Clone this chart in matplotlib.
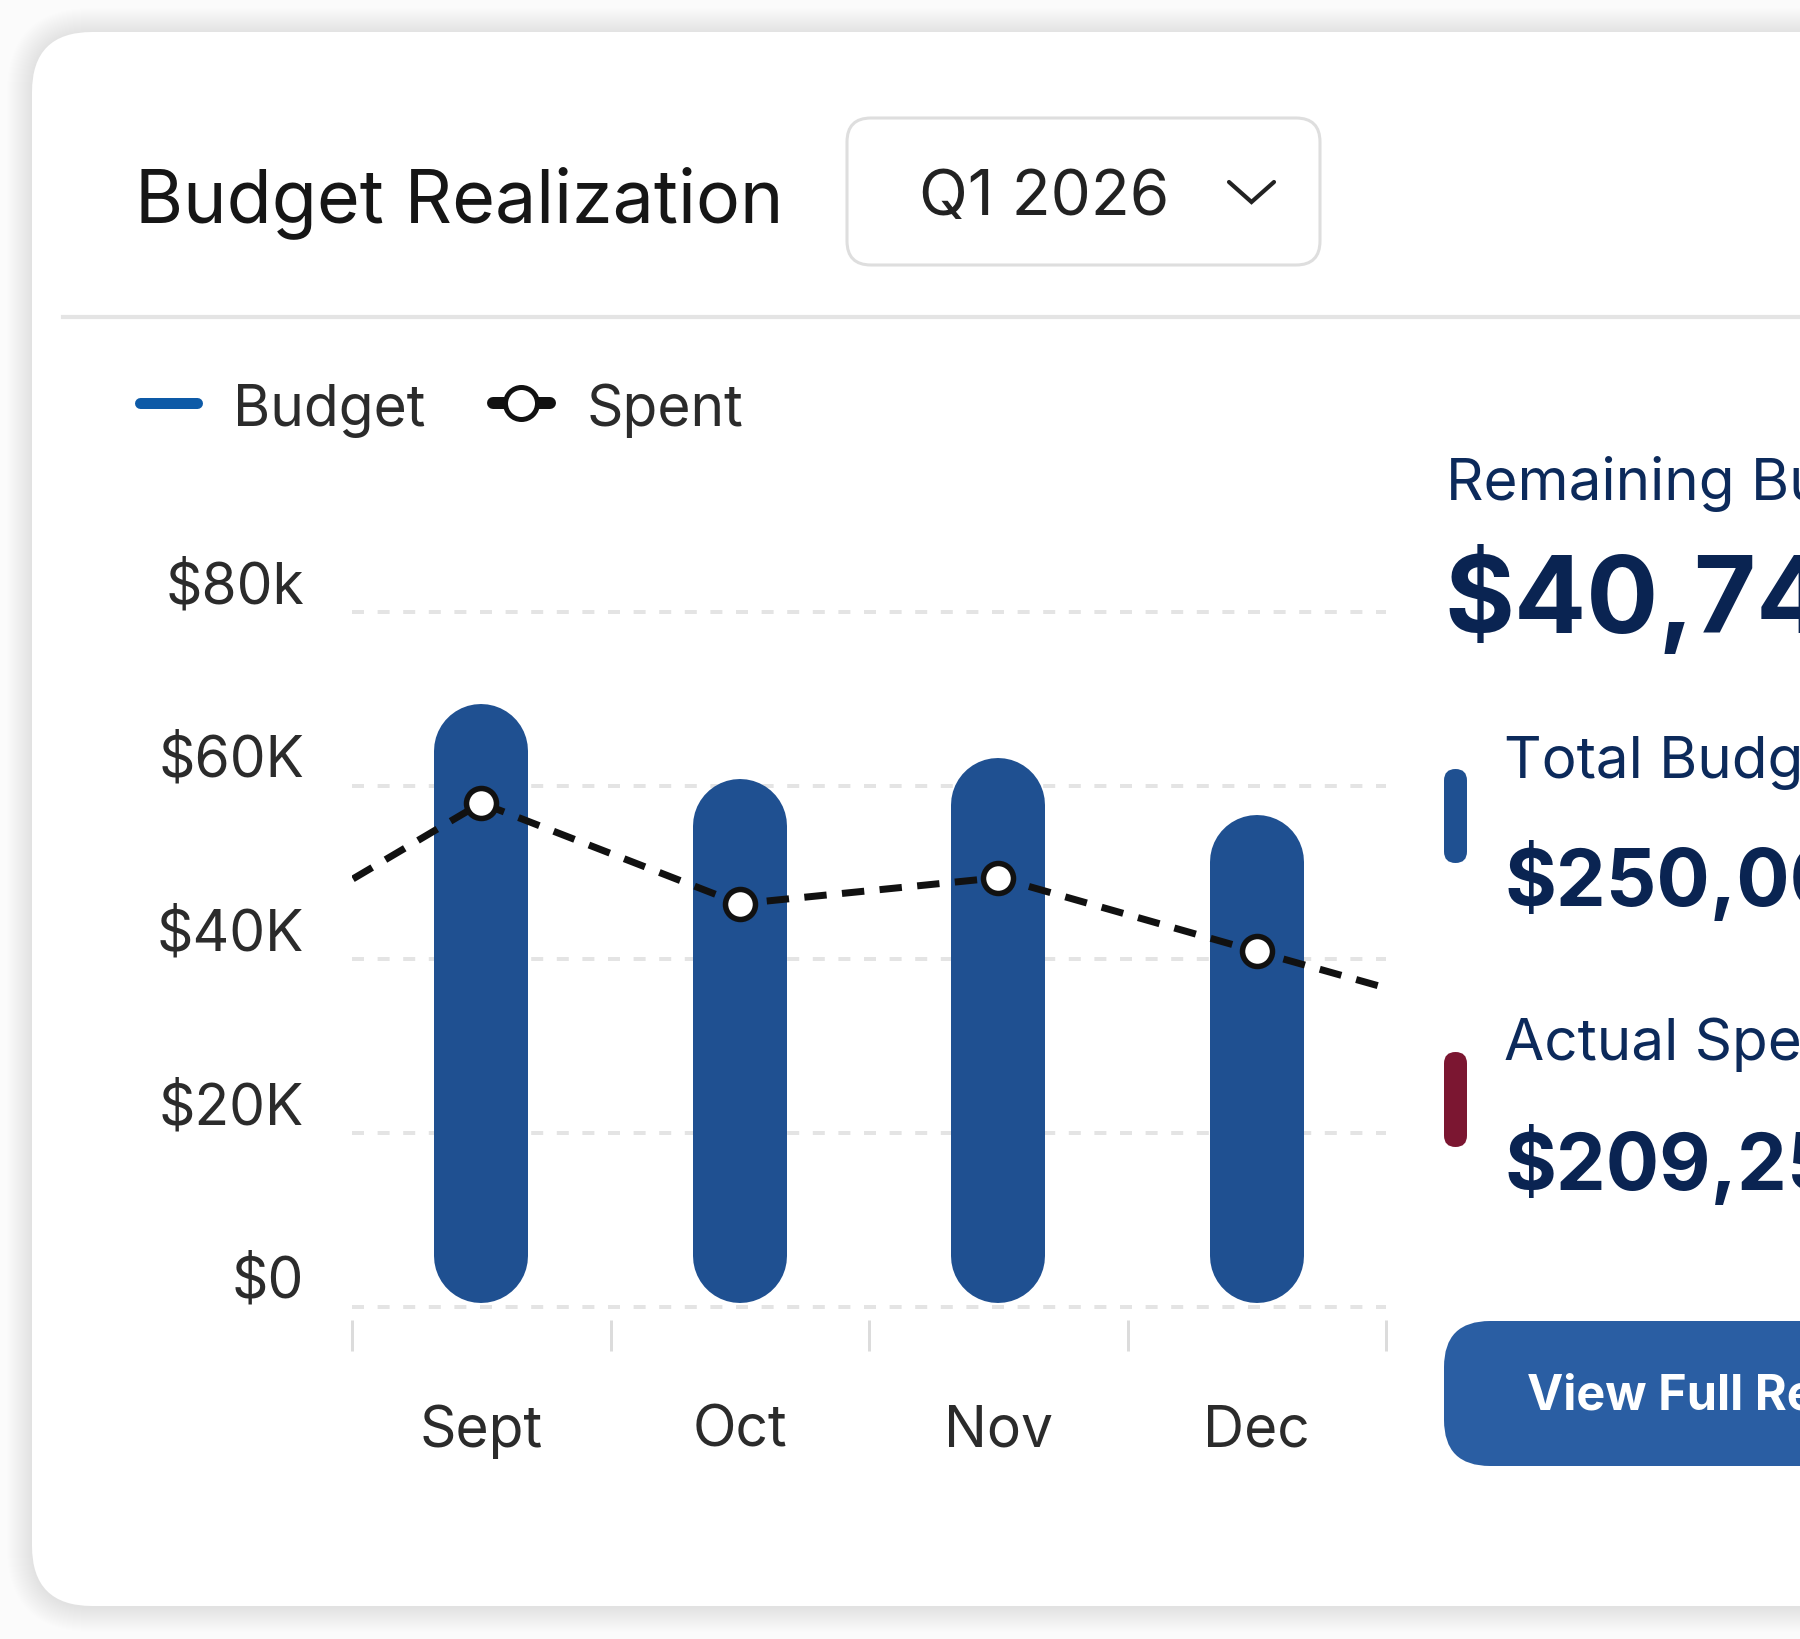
import numpy as np
import matplotlib.pyplot as plt
from matplotlib.patches import FancyBboxPatch
from matplotlib.transforms import ScaledTranslation

# ---- data ($k) ----
months = ['Sept', 'Oct', 'Nov', 'Dec']
budget = [69.4, 60.8, 63.2, 56.6]
# spent, with the neighbour months (Aug, Jan) the dashed line runs into
spent_months = ['Aug', 'Sept', 'Oct', 'Nov', 'Dec', 'Jan']
spent = [40.4, 58.0, 46.4, 49.4, 40.9, 32.5]
y_ticks = [0, 20, 40, 60, 80]
y_tick_labels = ['$0', '$20K', '$40K', '$60K', '$80k']

remaining_txt = '$40,748'
total_txt = '$250,000'
actual_txt = '$209,252'

W, H, DPI = 1800, 1639, 100
PT = 72 / DPI  # px -> pt
FONT = 'Inter'
plt.rcParams['font.family'] = [FONT, 'DejaVu Sans']

fig = plt.figure(figsize=(W / DPI, H / DPI), dpi=DPI, facecolor='#fbfbfb')

# overlay axes in pixel units for the card / header / side panel
bg = fig.add_axes([0, 0, 1, 1])
bg.set_xlim(0, W)
bg.set_ylim(H, 0)
bg.axis('off')


def rbox(x, y, w, h, r, **kw):
    """ Rounded rectangle, pixel coords, top-left corner (x, y). """
    p = FancyBboxPatch((x + r, y + r), w - 2 * r, h - 2 * r,
                       boxstyle='round,pad={}'.format(r), **kw)
    bg.add_patch(p)
    return p


# card + soft shadow
for i in range(1, 26):
    rbox(32 - i, 33 - i, 2200, 1574 + 2 * i, 60 + i, fc='black', ec='none', alpha=0.0045)
rbox(32, 32, 2200, 1574, 60, fc='white', ec='none')

# header
bg.text(135, 222, 'Budget Realization', fontsize=53, fontweight='normal',
        color='#161616', va='baseline')
rbox(847, 118, 473, 147, 24, fc='white', ec='#dedede', lw=2.2)
bg.text(919, 215, 'Q1 2026', fontsize=46, color='#222222', va='baseline')
bg.plot([1229, 1251.5, 1274], [182, 202, 182], color='#222222', lw=3,
        solid_capstyle='round', solid_joinstyle='miter')
bg.plot([63, W], [317, 317], color='#e4e4e4', lw=3)

# legend
bg.plot([140, 197], [403, 403], color='#0d5aa7', lw=11 * PT, solid_capstyle='round')
bg.text(233, 426, 'Budget', fontsize=41, color='#2b2b2b', va='baseline')
bg.plot([493, 550], [403, 403], color='#111111', lw=12 * PT, solid_capstyle='round')
bg.plot([521], [403], 'o', ms=32 * PT, mfc='white', mec='#111111', mew=5 * PT)
bg.text(587, 426, 'Spent', fontsize=41, color='#2b2b2b', va='baseline')

# side panel
navy = '#0c2a5b'
bg.text(1446, 500, 'Remaining Budget', fontsize=42, color=navy, va='baseline')
bg.text(1444, 633, remaining_txt, fontsize=77, fontweight='bold', color='#0a2452', va='baseline')
rbox(1444, 769, 23, 94, 11.5, fc='#1f5091', ec='none')
bg.text(1504, 778, 'Total Budget', fontsize=42, color=navy, va='baseline')
bg.text(1504, 906, total_txt, fontsize=57, fontweight='bold', color='#0a2452', va='baseline')
rbox(1444, 1052, 23, 95, 11.5, fc='#7b1631', ec='none')
bg.text(1504, 1060, 'Actual Spent', fontsize=42, color=navy, va='baseline')
bg.text(1504, 1190, actual_txt, fontsize=57, fontweight='bold', color='#0a2452', va='baseline')
rbox(1444, 1321, 600, 145, 46, fc='#2a5ea3', ec='none')
bg.text(1527, 1410, 'View Full Report', fontsize=35, fontweight='bold', color='white',
        va='baseline')

# ---- chart ----
y0_px, k_px = 1306.5, 8.68      # pixel of $0 and pixels per $1k
ylo, yhi = -1.5, 83
left_px, right_px = 352, 1386
bot_px = y0_px - ylo * k_px
top_px = y0_px - yhi * k_px
ax = fig.add_axes([left_px / W, 1 - bot_px / H, (right_px - left_px) / W,
                   (bot_px - top_px) / H])
ax.patch.set_alpha(0)
ax.set_xlim(-0.5, 3.5)
ax.set_ylim(ylo, yhi)

x = np.arange(len(months))
bar_px = 94
r = bar_px / 2 / k_px
base = 0.4
ax.vlines(x, base + r, np.array(budget) - r, lw=bar_px * PT, color='#1f5091',
          capstyle='round', zorder=2)

xs = np.arange(len(spent_months)) - 1
ax.plot(xs, spent, color='#111111', lw=7 * PT, dashes=(3.2, 2.2), zorder=3)
ax.plot(xs[1:-1], spent[1:-1], 'o', ms=30 * PT, mfc='white', mec='#111111',
        mew=5.5 * PT, zorder=4)

ax.set_yticks(y_ticks)
ax.set_yticklabels(y_tick_labels)
ax.yaxis.grid(True, color='#e4e4e4', lw=4 * PT, linestyle=(0, (3, 3.4)))
ax.set_axisbelow(True)
ax.tick_params(axis='y', length=0, pad=48 * PT, labelsize=41, labelcolor='#2b2b2b')
for lab in ax.get_yticklabels():
    lab.set_transform(lab.get_transform() + ScaledTranslation(0, 0.30, fig.dpi_scale_trans))

ax.set_xticks(np.arange(-0.5, 4, 1))
ax.set_xticklabels([])
ax.set_xticks(x, minor=True)
ax.set_xticklabels(months, minor=True)
ax.tick_params(axis='x', which='major', length=31 * PT, width=3 * PT, color='#dcdcdc')
ax.tick_params(axis='x', which='minor', length=0, pad=61, labelsize=41,
               labelcolor='#2b2b2b')
for s in ax.spines.values():
    s.set_visible(False)

fig.savefig('out.png', dpi=DPI, facecolor=fig.get_facecolor())
